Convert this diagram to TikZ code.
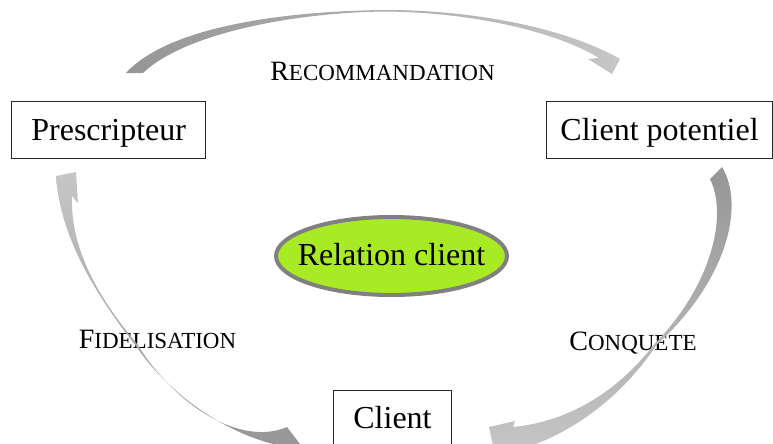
\documentclass[tikz,border=0pt]{standalone}
\usepackage{fontspec}
\setmainfont{Liberation Serif}
\usepackage{xcolor}
\usepackage{tikz}

\definecolor{flechefonce}{RGB}{150,150,150}
\definecolor{flecheclair}{RGB}{198,198,198}
\definecolor{relvert}{RGB}{168,234,36}
\definecolor{relbord}{RGB}{128,128,128}

\newcommand{\petitcap}[2]{{\fontsize{28}{30}\selectfont #1}{\fontsize{23}{25}\selectfont #2}}

\tikzset{
	acteur/.style={draw=black!85, line width=0.8pt, minimum height=56.6pt, inner sep=0pt,
		text height=27pt, text depth=6pt, font=\fontsize{32}{36}\selectfont},
	relation/.style={inner sep=0pt, text height=25pt, text depth=7pt,
		font=\fontsize{32}{36}\selectfont},
	etape/.style={anchor=base, inner sep=0pt}
}

\begin{document}
\begin{tikzpicture}[x=1pt,y=-1pt]
			\useasboundingbox (0,0) rectangle (773,444);

			\node[acteur, minimum width=194pt] (prescripteur) at (108.7,130) {Prescripteur};
			\node[acteur, minimum width=225.5pt] (potentiel) at (659.5,130) {Client potentiel};
			\node[acteur, minimum width=118.4pt] (client) at (392.5,418.3) {Client};

			\draw[relbord, fill=relvert, line width=4pt] (391.5,256) ellipse [x radius=115.5, y radius=39];
			\node[relation] (relation) at (391.5,256) {Relation client};

			\node[etape] (reco) at (382.5,81) {\petitcap{R}{ECOMMANDATION}};
			\node[etape] (fidel) at (157.5,348.3) {\petitcap{F}{IDELISATION}};
			\node[etape] (conq) at (633,350.7) {\petitcap{C}{ONQUETE}};

				% recommandation
				\shade[left color=flechefonce, right color=flecheclair]
					(126,73) .. controls (170,25) and (290,11) .. (385,10)
					.. controls (480,10) and (570,30) .. (620,59)
					-- (612,74) -- (588,59) -- (599,58)
					.. controls (560,34) and (480,12.5) .. (385,11.5)
					.. controls (295,12.5) and (185,33) .. (143,73) -- cycle;

				% conquete
				\shade[top color=flechefonce, bottom color=flecheclair]
					(722,167) .. controls (745,205) and (728,280) .. (656,345.5)
					.. controls (620,400) and (560,445) .. (495,455)
					-- (489,427) -- (515,421) -- (513,427)
					.. controls (565,422) and (615,395) .. (654.5,344)
					.. controls (712,285) and (728,215) .. (710,179) -- cycle;

				% fidelisation
				\shade[top color=flecheclair, bottom color=flechefonce]
					(303,448) .. controls (255,448) and (180,410) .. (135.5,345.5)
					.. controls (100,300) and (60,240) .. (56,176)
					-- (76,172) -- (78,203) -- (72,196)
					.. controls (70,250) and (100,300) .. (137.5,344.5)
					.. controls (175,405) and (240,447) .. (287,427) -- cycle;

		\end{tikzpicture}
\end{document}
